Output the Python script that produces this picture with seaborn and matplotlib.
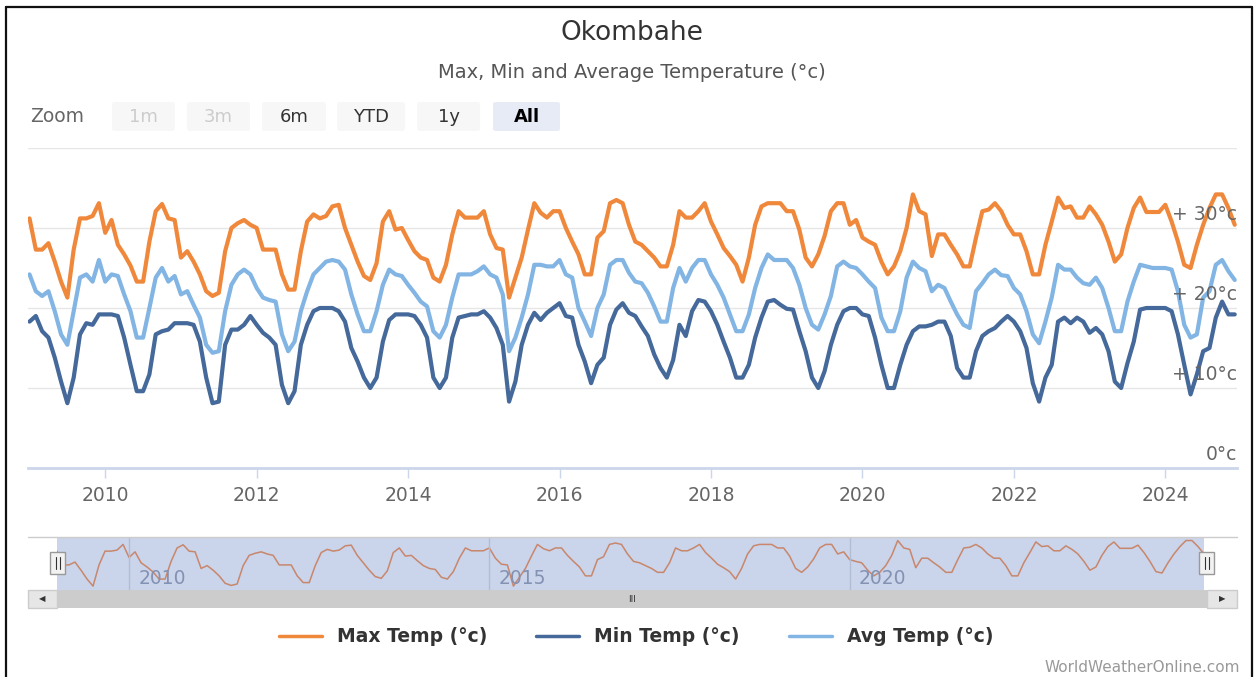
"""
Okombahe - Max, Min and Average Temperature (monthly, 2009-2024),
redrawn in the style of the WorldWeatherOnline Highstock chart.
"""
import matplotlib
matplotlib.use("Agg")
import matplotlib.pyplot as plt
from matplotlib.lines import Line2D
from matplotlib.patches import Rectangle, FancyBboxPatch
import numpy as np
import pandas as pd
import seaborn as sns

W, H = 1257, 677

# monthly values, Jan 2009 .. Dec 2024 (one row per year)
max_temp = [
    31.2, 27.3, 27.3, 28.1, 25.8, 23.3, 21.3, 27.3, 31.2, 31.2, 31.5, 33.1,
    29.4, 31.0, 27.9, 26.7, 25.3, 23.3, 23.3, 28.3, 32.1, 33.0, 31.2, 31.0,
    26.3, 27.1, 25.8, 24.2, 22.1, 21.5, 21.9, 27.1, 30.0, 30.6, 31.0, 30.4,
    30.0, 27.3, 27.3, 27.3, 24.2, 22.3, 22.3, 27.1, 30.8, 31.7, 31.2, 31.5,
    32.7, 32.9, 30.0, 27.9, 25.8, 24.0, 23.5, 25.6, 30.8, 32.1, 29.8, 30.0,
    28.5, 27.1, 26.3, 26.0, 23.8, 23.3, 25.4, 29.2, 32.1, 31.3, 31.3, 31.3,
    32.1, 29.2, 27.5, 27.3, 21.3, 23.8, 26.3, 29.8, 33.1, 31.9, 31.3, 32.1,
    32.1, 30.0, 28.3, 26.7, 24.2, 24.2, 28.8, 29.6, 33.1, 33.5, 33.1, 30.4,
    28.3, 27.9, 27.1, 26.3, 25.2, 25.2, 27.9, 32.1, 31.3, 31.3, 32.1, 33.1,
    30.8, 29.2, 27.5, 26.5, 25.4, 23.3, 26.3, 30.4, 32.7, 33.1, 33.1, 33.1,
    32.1, 32.1, 29.8, 26.3, 25.2, 26.7, 29.0, 32.1, 33.1, 33.1, 30.4, 31.0,
    28.8, 28.3, 27.9, 25.8, 24.2, 25.2, 27.1, 30.0, 34.2, 32.1, 31.7, 26.5,
    29.2, 29.2, 27.9, 26.7, 25.2, 25.2, 28.8, 32.1, 32.3, 33.1, 32.1, 30.4,
    29.2, 29.2, 27.1, 24.2, 24.2, 27.9, 30.8, 33.8, 32.5, 32.7, 31.3, 31.3,
    32.7, 31.7, 30.4, 28.3, 25.8, 26.7, 30.0, 32.5, 33.8, 32.0, 32.0, 32.0,
    32.9, 30.8, 28.3, 25.4, 25.0, 27.9, 30.4, 32.5, 34.2, 34.2, 32.5, 30.4,
]
min_temp = [
    18.3, 19.0, 17.1, 16.3, 13.8, 10.8, 8.1, 11.3, 16.7, 18.1, 17.9, 19.2,
    19.2, 19.2, 19.0, 16.3, 12.9, 9.6, 9.6, 11.7, 16.7, 17.1, 17.3, 18.1,
    18.1, 18.1, 17.9, 15.8, 11.3, 8.1, 8.3, 15.4, 17.3, 17.3, 17.9, 19.0,
    17.9, 16.9, 16.3, 15.4, 10.4, 8.1, 9.6, 15.4, 17.9, 19.6, 20.0, 20.0,
    20.0, 19.6, 18.3, 15.0, 13.3, 11.3, 10.0, 11.3, 15.8, 18.5, 19.2, 19.2,
    19.2, 19.0, 17.9, 16.3, 11.3, 10.0, 11.3, 16.3, 18.8, 19.0, 19.2, 19.2,
    19.6, 18.8, 17.5, 15.4, 8.3, 10.8, 15.4, 17.9, 19.4, 18.5, 19.4, 20.0,
    20.6, 19.0, 18.8, 15.4, 13.3, 10.6, 12.9, 13.8, 17.9, 19.8, 20.6, 19.4,
    19.0, 17.7, 16.5, 14.2, 12.5, 11.3, 13.5, 17.9, 16.5, 19.6, 21.0, 20.8,
    19.6, 17.9, 15.8, 13.8, 11.3, 11.3, 12.9, 16.3, 18.8, 20.8, 21.0, 20.4,
    19.9, 19.8, 17.1, 14.6, 11.3, 10.0, 12.1, 15.4, 17.9, 19.6, 20.0, 20.0,
    19.2, 19.0, 16.3, 12.9, 10.0, 10.0, 12.9, 15.4, 17.1, 17.7, 17.7, 17.9,
    18.3, 18.3, 16.5, 12.5, 11.3, 11.3, 14.6, 16.5, 17.1, 17.5, 18.3, 19.0,
    18.3, 17.1, 15.0, 10.6, 8.3, 11.3, 12.9, 18.3, 18.8, 18.1, 18.8, 18.3,
    16.9, 17.5, 16.7, 14.6, 10.8, 10.0, 13.1, 15.8, 19.8, 20.0, 20.0, 20.0,
    20.0, 19.6, 16.7, 12.9, 9.2, 11.7, 14.6, 15.0, 18.8, 20.8, 19.2, 19.2,
]
avg_temp = [
    24.2, 22.1, 21.5, 22.1, 19.6, 16.7, 15.4, 19.6, 23.8, 24.2, 23.3, 26.0,
    23.3, 24.2, 24.0, 21.7, 19.6, 16.3, 16.3, 20.0, 23.8, 25.0, 23.3, 24.0,
    21.7, 22.1, 20.4, 18.8, 15.4, 14.4, 14.6, 19.6, 22.9, 24.2, 24.8, 24.2,
    22.5, 21.3, 21.0, 20.8, 16.7, 14.6, 15.8, 19.6, 22.1, 24.2, 25.0, 25.8,
    26.0, 25.8, 24.8, 21.7, 19.2, 17.1, 17.1, 19.6, 22.9, 24.8, 24.2, 24.0,
    22.9, 21.9, 20.8, 20.2, 17.1, 16.3, 17.9, 21.3, 24.2, 24.2, 24.2, 24.6,
    25.2, 24.2, 23.8, 21.7, 14.6, 16.3, 18.8, 21.7, 25.4, 25.4, 25.2, 25.2,
    26.0, 24.2, 23.8, 20.0, 18.3, 16.5, 20.0, 21.7, 25.4, 26.0, 26.0, 24.4,
    23.3, 23.1, 21.9, 20.2, 18.3, 18.3, 22.5, 25.0, 23.3, 25.0, 26.0, 26.0,
    24.2, 22.9, 21.3, 19.2, 17.1, 17.1, 19.2, 22.5, 25.0, 26.7, 26.0, 26.0,
    26.0, 25.0, 22.9, 20.0, 17.9, 17.3, 19.2, 21.5, 25.2, 25.8, 25.2, 25.0,
    24.2, 23.3, 22.5, 18.8, 17.1, 17.1, 19.6, 23.8, 25.8, 25.0, 24.6, 22.1,
    22.9, 22.5, 20.8, 19.2, 17.9, 17.5, 22.1, 23.1, 24.2, 24.8, 24.1, 24.0,
    22.5, 21.7, 19.6, 16.7, 15.6, 18.3, 21.3, 25.4, 24.8, 24.8, 23.8, 23.1,
    22.9, 23.8, 22.5, 20.0, 17.1, 17.1, 20.8, 23.3, 25.4, 25.2, 25.0, 25.0,
    25.0, 24.8, 22.1, 17.9, 16.3, 16.7, 21.3, 22.1, 25.4, 26.0, 24.6, 23.5,
]

series_names = ["Max Temp (°c)", "Min Temp (°c)", "Avg Temp (°c)"]
colors = ["#f0883c", "#44699a", "#82b5e3"]
x_ticks = [2010, 2012, 2014, 2016, 2018, 2020, 2022, 2024]
y_ticks = [0, 10, 20, 30]
nav_years = [2010, 2015, 2020]
buttons = ["1m", "3m", "6m", "YTD", "1y", "All"]

sns.set_theme(style="white")
plt.rcParams["font.family"] = ["DejaVu Sans"]


def fx(x):
    return x / W


def fy(y):
    return 1 - y / H


def px_rect(x0, y0, x1, y1):
    return [fx(x0), fy(y1), (x1 - x0) / W, (y1 - y0) / H]


dates = pd.date_range("2009-01-01", periods=len(max_temp), freq="MS")
t = dates.year + (dates.month - 1) / 12.0
df = pd.DataFrame({"t": t, series_names[0]: max_temp,
                   series_names[1]: min_temp, series_names[2]: avg_temp})
long_df = df.melt(id_vars="t", var_name="series", value_name="temp")
palette = dict(zip(series_names, colors))

fig = plt.figure(figsize=(W / 100, H / 100), dpi=100)
fig.patch.set_facecolor("white")

# --- main plot ---
ax = fig.add_axes(px_rect(28, 148, 1237, 468))
sns.lineplot(data=long_df, x="t", y="temp", hue="series", hue_order=series_names,
             palette=palette, linewidth=3.0, legend=False, ax=ax,
             solid_joinstyle="round", solid_capstyle="round")
ax.set_xlim(t[0] - 0.02, t[-1] + 0.03)
ax.set_ylim(0, 40)
ax.set_yticks([10, 20, 30, 40])
ax.yaxis.grid(True, color="#e6e6e6", linewidth=1)
ax.tick_params(axis="y", left=False, right=False, labelleft=False)
for s in ["top", "left", "right"]:
    ax.spines[s].set_visible(False)
ax.spines["bottom"].set_color("#ccd6eb")
ax.spines["bottom"].set_linewidth(2)
ax.set_xticks(x_ticks)
ax.set_xticklabels([str(y) for y in x_ticks])
ax.tick_params(axis="x", bottom=True, length=7, width=1, color="#ccd6eb",
               labelsize=13.5, labelcolor="#666666", pad=6)
ax.set_xlabel("")
ax.set_ylabel("")
for v in y_ticks:
    lab = f"{v}°c" if v == 0 else f"+ {v}°c"
    ax.text(1.0, v + 0.5, lab, transform=ax.get_yaxis_transform(),
            ha="right", va="bottom", fontsize=13.5, color="#666666")

# --- title / subtitle ---
fig.text(fx(632), fy(33), "Okombahe", ha="center", va="center",
         fontsize=19, color="#333333")
fig.text(fx(632), fy(72), "Max, Min and Average Temperature (°c)",
         ha="center", va="center", fontsize=14, color="#555555")

# --- range selector buttons ---
fig.text(fx(30), fy(117), "Zoom", ha="left", va="center", fontsize=13.5,
         color="#666666")
btn_x = [(112, 175), (187, 250), (262, 326), (337, 405), (417, 480), (493, 560)]
for lab, (x0, x1) in zip(buttons, btn_x):
    if lab in ("1m", "3m"):
        bg, fg, wt = "#f7f7f7", "#cccccc", "normal"
    elif lab == "All":
        bg, fg, wt = "#e6ebf5", "#000000", "bold"
    else:
        bg, fg, wt = "#f7f7f7", "#333333", "normal"
    b = px_rect(x0, 102, x1, 131)
    fig.add_artist(FancyBboxPatch((b[0], b[1]), b[2], b[3],
                                  boxstyle="round,pad=0,rounding_size=0.003",
                                  transform=fig.transFigure, facecolor=bg,
                                  edgecolor="none"))
    fig.text(fx((x0 + x1) / 2), fy(117), lab, ha="center", va="center",
             fontsize=13, color=fg, fontweight=wt)

# --- navigator ---
nav = fig.add_axes(px_rect(57, 537, 1204, 590))
nav.set_facecolor("#cad4ea")
sns.lineplot(x=t, y=max_temp, color="#c8876c", linewidth=1.1, ax=nav)
nav.set_xlim(t[0], t[-1])
nav.set_ylim(20.2, 35.2)
nav.set_xticks([])
nav.set_yticks([])
nav.set_xlabel("")
nav.set_ylabel("")
for s in nav.spines.values():
    s.set_visible(False)
for yr in nav_years:
    nav.axvline(yr, color="#b2bcd3", linewidth=1)
    nav.text(yr + 0.13, 0.22, str(yr), transform=nav.get_xaxis_transform(),
             ha="left", va="center", fontsize=13.5, color="#8391b3")
fig.add_artist(Line2D([fx(28), fx(1237)], [fy(537), fy(537)],
                      transform=fig.transFigure, color="#cccccc", linewidth=1))

# handles
for hx in (50, 1199):
    r = px_rect(hx, 552, hx + 15, 574)
    fig.add_artist(Rectangle((r[0], r[1]), r[2], r[3], transform=fig.transFigure,
                             facecolor="#f2f2f2", edgecolor="#999999", linewidth=1))
    for lx in (hx + 5.5, hx + 9.5):
        fig.add_artist(Line2D([fx(lx), fx(lx)], [fy(557), fy(569)],
                              transform=fig.transFigure, color="#333333",
                              linewidth=0.8))

# scrollbar
r = px_rect(28, 590, 1237, 608)
fig.add_artist(Rectangle((r[0], r[1]), r[2], r[3], transform=fig.transFigure,
                         facecolor="#cccccc", edgecolor="none"))
for bx0, bx1, arrow in ((28, 57, "◀"), (1207, 1237, "▶")):
    r = px_rect(bx0, 590, bx1, 608)
    fig.add_artist(Rectangle((r[0], r[1]), r[2], r[3], transform=fig.transFigure,
                             facecolor="#e6e6e6", edgecolor="#cccccc",
                             linewidth=1))
    fig.text(fx((bx0 + bx1) / 2), fy(599), arrow, ha="center", va="center",
             fontsize=6, color="#333333")
fig.text(fx(632), fy(599), "III", ha="center", va="center", fontsize=6.5,
         color="#333333")

# --- legend ---
handles = [Line2D([0], [0], color=c, linewidth=2.5) for c in colors]
leg = fig.legend(handles, series_names, ncol=3, loc="center",
                 bbox_to_anchor=(fx(636), fy(637)), frameon=False,
                 prop={"weight": "bold", "size": 13.5}, handlelength=2.3,
                 handletextpad=0.8, columnspacing=2.6)
for txt in leg.get_texts():
    txt.set_color("#333333")

# credits
fig.text(fx(1240), fy(667), "WorldWeatherOnline.com", ha="right",
         va="center", fontsize=11, color="#999999")

# outer frame of the screenshot
for xs, ys in (((6, 6), (7, 677)), ((6, 1252), (7, 7)), ((1252, 1252), (7, 677))):
    fig.add_artist(Line2D([fx(xs[0]), fx(xs[1])], [fy(ys[0]), fy(ys[1])],
                          transform=fig.transFigure, color="#111111",
                          linewidth=1.6))

fig.savefig("out.png", dpi=100, facecolor="white")
plt.close(fig)
